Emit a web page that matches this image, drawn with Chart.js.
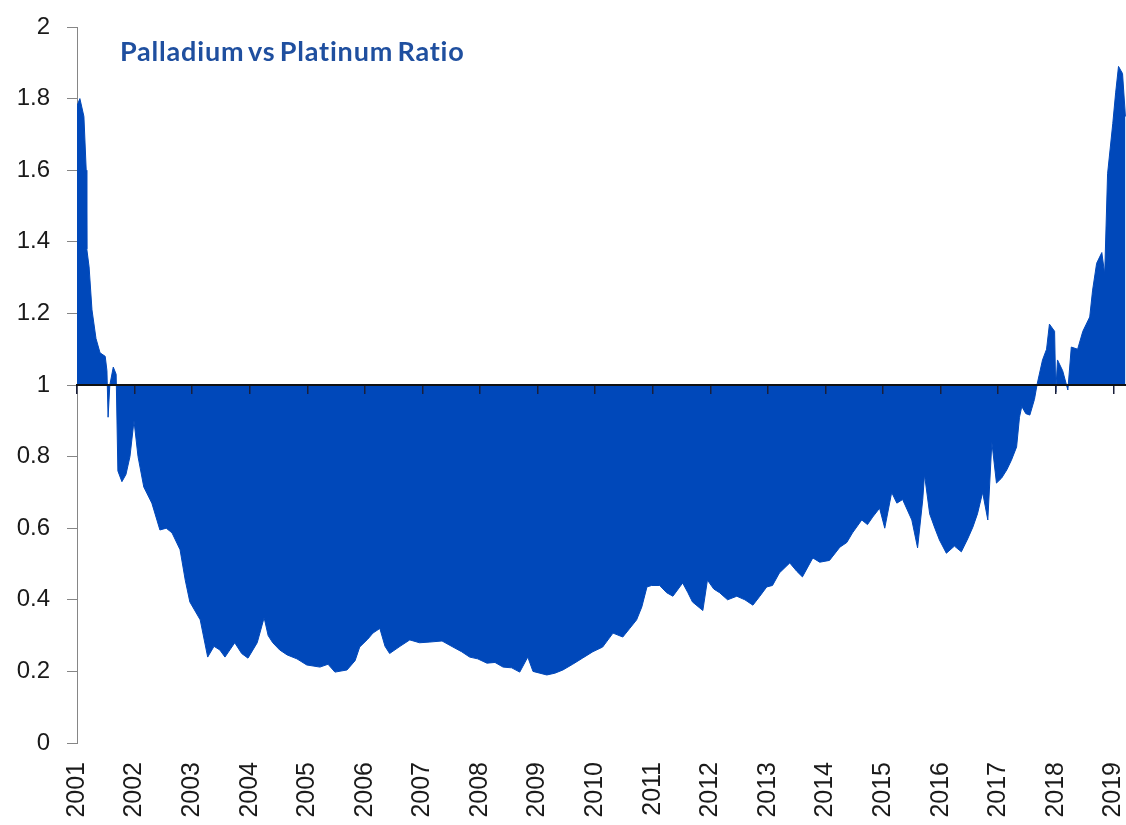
<!DOCTYPE html>
<html>
<head>
<meta charset="utf-8">
<script src="https://cdn.jsdelivr.net/npm/chart.js@4.4.1/dist/chart.umd.min.js"></script>
<style>
  body { margin: 0; background: #fff; }
  #wrap { position: relative; width: 1126px; height: 825px; }
  #title {
    position: absolute; left: 120px; top: 37px;
    font-family: Lato, "Open Sans", sans-serif; font-weight: bold;
    font-size: 27px; line-height: 27px; color: #1f4f9f;
    letter-spacing: 0.8px; word-spacing: -3px; white-space: nowrap;
  }
</style>
</head>
<body>
<div id="wrap">
  <canvas id="ratioChart"></canvas>
  <div id="title">Palladium vs Platinum Ratio</div>
</div>
<script>
// decimal year of each reading
const dates = [
  2001.00, 2001.05, 2001.12, 2001.16, 2001.17, 2001.21, 2001.26, 2001.33, 2001.40, 2001.49,
  2001.52, 2001.54, 2001.57, 2001.63, 2001.68, 2001.71, 2001.78, 2001.85, 2001.92, 2001.99,
  2002.06, 2002.16, 2002.30, 2002.44, 2002.55, 2002.65, 2002.79, 2002.88, 2002.96, 2003.14,
  2003.27, 2003.38, 2003.48, 2003.57, 2003.74, 2003.86, 2003.97, 2004.13, 2004.25, 2004.32,
  2004.40, 2004.52, 2004.65, 2004.82, 2004.99, 2005.22, 2005.36, 2005.48, 2005.69, 2005.83,
  2005.91, 2006.05, 2006.14, 2006.26, 2006.35, 2006.43, 2006.61, 2006.78, 2006.95, 2007.13,
  2007.34, 2007.53, 2007.68, 2007.82, 2007.96, 2008.12, 2008.26, 2008.40, 2008.55, 2008.69,
  2008.83, 2008.92, 2009.04, 2009.16, 2009.30, 2009.44, 2009.61, 2009.78, 2009.96, 2010.13,
  2010.31, 2010.48, 2010.60, 2010.72, 2010.81, 2010.90, 2010.98, 2011.12, 2011.24, 2011.35,
  2011.52, 2011.61, 2011.69, 2011.87, 2011.95, 2012.06, 2012.16, 2012.30, 2012.46, 2012.60,
  2012.74, 2012.86, 2012.98, 2013.08, 2013.20, 2013.38, 2013.50, 2013.60, 2013.78, 2013.90,
  2014.07, 2014.25, 2014.37, 2014.47, 2014.63, 2014.73, 2014.82, 2014.94, 2015.03, 2015.15,
  2015.24, 2015.34, 2015.50, 2015.60, 2015.69, 2015.72, 2015.81, 2015.90, 2015.98, 2016.10,
  2016.24, 2016.36, 2016.47, 2016.56, 2016.64, 2016.73, 2016.82, 2016.89, 2016.97, 2017.06,
  2017.15, 2017.23, 2017.32, 2017.37, 2017.41, 2017.48, 2017.55, 2017.63, 2017.68, 2017.77,
  2017.84, 2017.89, 2017.98, 2018.00, 2018.03, 2018.12, 2018.21, 2018.27, 2018.38, 2018.47,
  2018.59, 2018.64, 2018.71, 2018.80, 2018.85, 2018.90, 2018.99, 2019.04, 2019.09, 2019.16,
  2019.21
];

// palladium / platinum price ratio
const ratio = [
  1.78, 1.80, 1.75, 1.60, 1.38, 1.33, 1.21, 1.13, 1.09, 1.08,
  1.04, 0.91, 1.00, 1.05, 1.03, 0.76, 0.73, 0.75, 0.80, 0.90,
  0.80, 0.715, 0.67, 0.595, 0.60, 0.587, 0.54, 0.455, 0.394, 0.344,
  0.24, 0.27, 0.26, 0.24, 0.28, 0.25, 0.237, 0.28, 0.35, 0.30,
  0.28, 0.26, 0.246, 0.235, 0.218, 0.212, 0.22, 0.198, 0.204, 0.23,
  0.268, 0.29, 0.307, 0.32, 0.27, 0.25, 0.27, 0.288, 0.28, 0.282,
  0.285, 0.268, 0.255, 0.24, 0.235, 0.223, 0.225, 0.212, 0.21, 0.198,
  0.24, 0.20, 0.195, 0.19, 0.195, 0.204, 0.22, 0.237, 0.255, 0.268,
  0.307, 0.296, 0.32, 0.344, 0.38, 0.436, 0.44, 0.44, 0.42, 0.41,
  0.447, 0.42, 0.394, 0.37, 0.455, 0.43, 0.42, 0.40, 0.41, 0.40,
  0.385, 0.41, 0.436, 0.44, 0.475, 0.503, 0.48, 0.464, 0.517, 0.505,
  0.51, 0.547, 0.56, 0.587, 0.623, 0.61, 0.631, 0.656, 0.60, 0.70,
  0.67, 0.68, 0.623, 0.545, 0.68, 0.75, 0.64, 0.60, 0.567, 0.53,
  0.55, 0.534, 0.57, 0.603, 0.64, 0.70, 0.623, 0.84, 0.726, 0.74,
  0.763, 0.79, 0.827, 0.91, 0.94, 0.92, 0.916, 0.96, 1.005, 1.07,
  1.10, 1.17, 1.15, 0.98, 1.07, 1.04, 0.986, 1.106, 1.10, 1.15,
  1.19, 1.265, 1.34, 1.37, 1.31, 1.59, 1.73, 1.816, 1.89, 1.87,
  1.75
];

// year tick labels
const years = [
  2001, 2002, 2003, 2004, 2005, 2006, 2007, 2008, 2009, 2010,
  2011, 2012, 2013, 2014, 2015, 2016, 2017, 2018, 2019
];

const lastDate = 2019.22;
const baseline = 1;

const points = dates.map((d, i) => ({ x: d, y: ratio[i] }));
const yearTicks = (scale) => { scale.ticks = years.map((v) => ({ value: v })); };

const ctx = document.getElementById("ratioChart").getContext("2d");
new Chart(ctx, {
  type: "line",
  data: {
    datasets: [{
      label: "Palladium vs Platinum Ratio",
      data: points,
      borderColor: "#0048ba",
      backgroundColor: "#0048ba",
      borderWidth: 1,
      pointRadius: 0,
      tension: 0,
      fill: { value: baseline },
    }],
  },
  options: {
    responsive: true,
    maintainAspectRatio: false,
    animation: false,
    layout: { padding: { top: 27, right: 0, left: 0, bottom: 0 } },
    plugins: { legend: { display: false }, tooltip: { enabled: false } },
    scales: {
      x: {
        type: "linear",
        min: years[0],
        max: lastDate,
        grid: { display: false },
        border: { display: false },
        afterBuildTicks: yearTicks,
        ticks: {
          autoSkip: false,
          minRotation: 90,
          maxRotation: 90,
          padding: 11,
          color: "#1a1a1a",
          font: { family: "'Liberation Sans', Arial, sans-serif", size: 25 },
          callback: (v) => String(v),
        },
        afterFit: (scale) => {
          scale.height = 82;
          scale.paddingLeft = 0;
          scale.paddingRight = 0;
        },
      },
      x2: {
        type: "linear",
        position: { y: baseline },
        min: years[0],
        max: lastDate,
        afterBuildTicks: yearTicks,
        grid: { z: 1, drawOnChartArea: false, drawTicks: true, tickLength: 8, color: "#1a1f3a", lineWidth: 1.5 },
        border: { z: 1, color: "#111", width: 2 },
        ticks: { display: false, autoSkip: false },
      },
      y: {
        min: 0,
        max: 2,
        grid: { drawOnChartArea: false, drawTicks: true, tickLength: 10, color: "#868686" },
        border: { color: "#868686", width: 1 },
        ticks: {
          stepSize: 0.2,
          padding: 17,
          color: "#1a1a1a",
          font: { family: "'Liberation Sans', Arial, sans-serif", size: 24 },
          callback: (v) => String(+v.toFixed(1)),
        },
        afterFit: (scale) => {
          scale.width = 77;
          scale.paddingTop = 0;
          scale.paddingBottom = 0;
        },
      },
    },
  },
});
</script>
</body>
</html>
